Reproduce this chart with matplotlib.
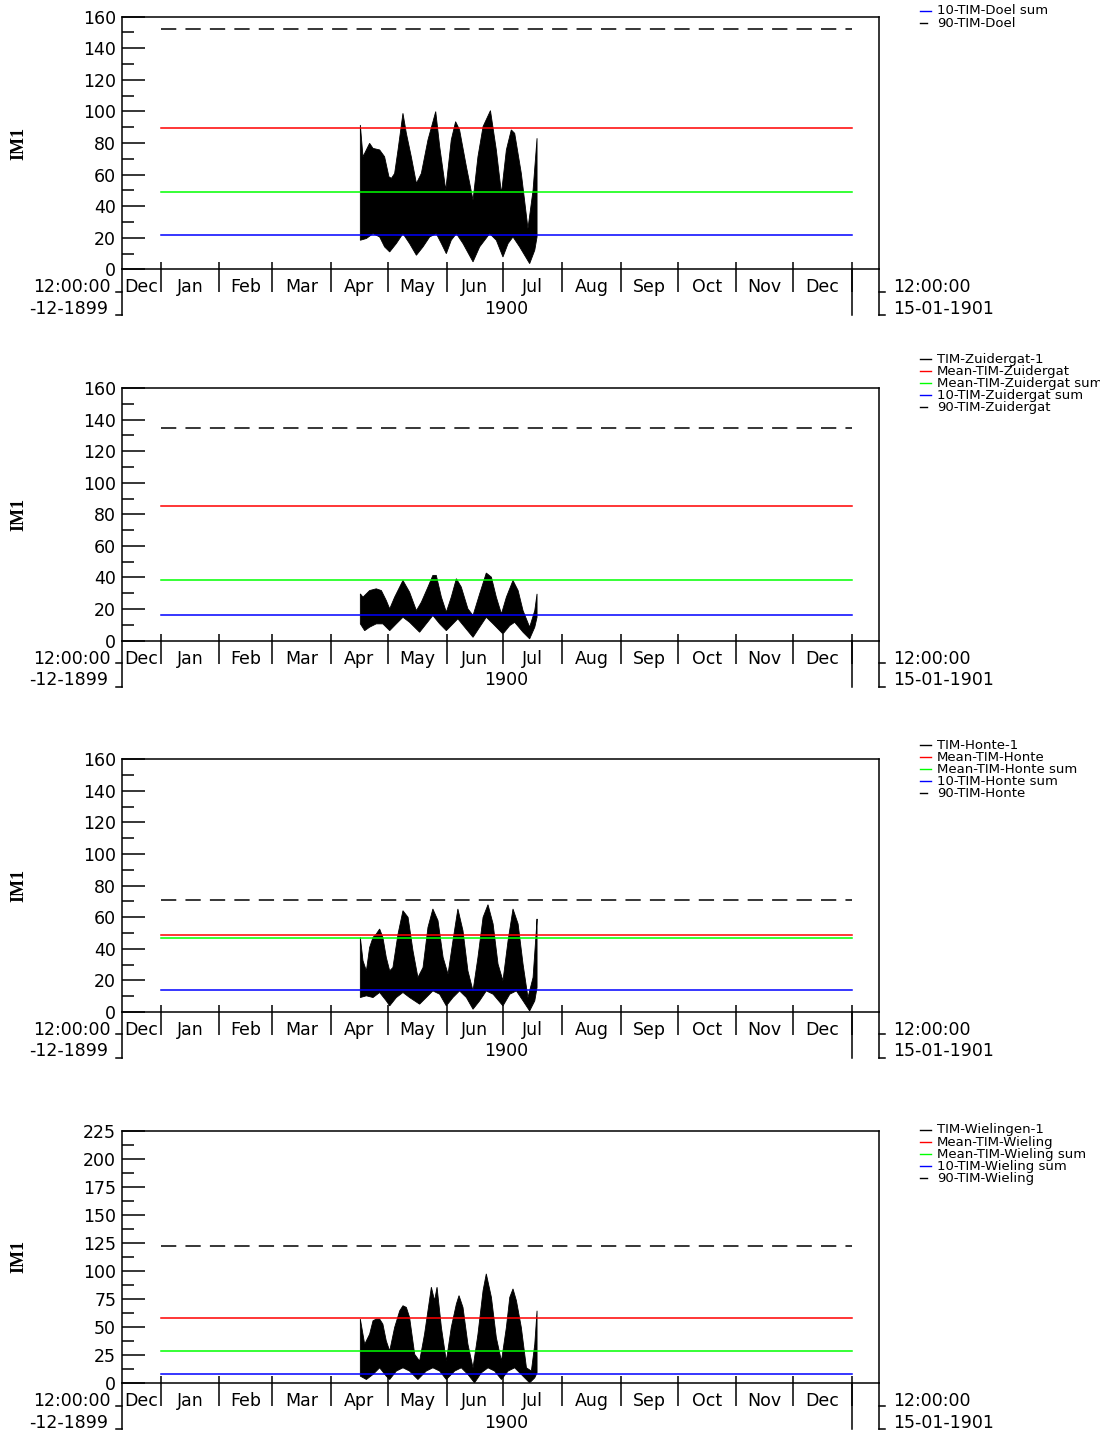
import numpy as np
import matplotlib
matplotlib.use('Agg')
import matplotlib.pyplot as plt
from matplotlib.lines import Line2D
from matplotlib.ticker import MultipleLocator

# x axis in days since 01-01-1900 00:00
x_start, x_end = -20.5, 379.5
month_starts = [0, 31, 59, 90, 120, 151, 181, 212, 243, 273, 304, 334, 365]
month_names = ['Dec', 'Jan', 'Feb', 'Mar', 'Apr', 'May', 'Jun',
               'Jul', 'Aug', 'Sep', 'Oct', 'Nov', 'Dec']
year_label = '1900'
left_date = ['12:00:00', '-12-1899']
right_date = ['12:00:00', '15-01-1901']
stat_start, stat_end = 0, 365

# ---- TIM-Doel (envelope of the dense tidal signal) ----
doel_top_day = [105.5, 106.9, 110.4, 112.2, 115.7, 118.3, 120.6, 121.9, 123.6, 125.4,
                128.0, 129.8, 132.4, 135.1, 137.7, 141.2, 145.3, 147.4, 150.6, 153.5,
                155.8, 157.9, 161.5, 165.0, 167.6, 170.3, 174.2, 177.3, 180.0, 182.6,
                185.2, 187.0, 190.5, 194.0, 196.7, 198.8]
doel_top_val = [91.4, 71.3, 79.8, 76.6, 75.6, 71.3, 58.6, 57.6, 60.7, 75.6,
                98.8, 86.1, 71.3, 54.4, 60.7, 81.9, 99.9, 77.7, 50.2, 81.9,
                93.5, 88.3, 65.0, 43.8, 71.3, 90.4, 100.5, 75.6, 48.0, 75.6,
                88.3, 86.1, 60.7, 25.8, 50.2, 83.0]
doel_bot_day = [105.5, 108.7, 112.2, 115.7, 118.3, 121.0, 124.5, 128.0, 131.5, 135.1,
                138.6, 142.1, 145.6, 148.3, 150.9, 153.5, 156.2, 159.7, 165.0, 168.5,
                173.8, 177.3, 180.8, 183.5, 186.1, 189.6, 194.9, 197.6, 198.8]
doel_bot_val = [18.4, 19.5, 22.6, 20.5, 14.2, 11.0, 16.3, 22.6, 16.3, 8.9,
                14.2, 20.5, 22.6, 16.3, 9.9, 18.4, 22.6, 16.3, 4.7, 14.2,
                22.6, 18.4, 7.8, 16.3, 20.5, 14.2, 3.6, 12.1, 20.5]

# ---- TIM-Zuidergat ----
zuid_top_day = [105.5, 106.9, 110.4, 113.9, 116.6, 119.2, 121.0, 123.6, 128.0, 131.5,
                135.1, 137.7, 141.2, 143.8, 145.6, 148.3, 150.9, 153.5, 156.2, 158.8,
                162.3, 165.0, 168.5, 172.0, 174.7, 177.3, 180.0, 182.6, 186.1, 188.8,
                191.4, 194.9, 197.6, 198.8]
zuid_top_val = [29.6, 27.5, 31.7, 32.8, 31.7, 25.4, 20.1, 27.5, 38.1, 30.7,
                19.0, 24.3, 33.9, 41.3, 41.3, 27.5, 18.0, 27.5, 39.2, 33.9,
                20.1, 15.9, 29.6, 42.8, 40.2, 27.5, 16.9, 27.5, 38.1, 31.7,
                19.0, 8.5, 19.0, 29.6]
zuid_bot_day = [105.5, 107.8, 110.4, 113.9, 117.4, 121.0, 124.5, 128.0, 131.5, 136.8,
                140.3, 143.8, 147.4, 150.9, 154.4, 157.0, 160.6, 165.0, 168.5, 172.0,
                175.6, 180.8, 184.4, 187.0, 191.4, 194.9, 197.6, 198.8]
zuid_bot_val = [10.6, 6.3, 8.5, 10.6, 10.6, 6.3, 10.6, 14.8, 11.6, 5.3,
                10.6, 15.9, 10.6, 6.3, 10.6, 13.8, 8.5, 2.1, 8.5, 14.8,
                10.6, 4.2, 9.5, 11.6, 5.3, 1.1, 8.5, 14.8]

# ---- TIM-Honte ----
honte_top_day = [105.5, 106.9, 108.7, 110.4, 112.2, 113.9, 115.7, 117.4, 119.2, 121.0,
                 122.7, 125.4, 128.0, 130.7, 133.3, 135.9, 138.6, 141.2, 143.8, 146.5,
                 149.2, 151.8, 154.4, 157.0, 159.7, 162.3, 165.0, 167.6, 170.3, 172.9,
                 175.6, 178.2, 180.8, 183.5, 186.1, 188.8, 191.4, 194.0, 196.7, 198.4,
                 198.8]
honte_top_val = [47.2, 32.4, 26.0, 40.8, 47.2, 49.3, 52.5, 47.2, 34.5, 26.0,
                 28.1, 49.3, 64.1, 59.9, 38.7, 21.8, 28.1, 53.5, 65.2, 57.8,
                 34.5, 23.9, 45.1, 65.2, 51.4, 26.0, 13.3, 34.5, 59.9, 67.9,
                 55.7, 30.3, 19.7, 45.1, 65.2, 55.7, 30.3, 9.1, 21.8, 51.4,
                 58.9]
honte_bot_day = [105.5, 108.7, 112.2, 115.7, 119.2, 121.0, 124.5, 128.0, 131.5, 136.8,
                 140.3, 143.8, 147.4, 150.9, 154.4, 157.9, 161.5, 165.0, 168.5, 172.0,
                 175.6, 180.8, 184.4, 187.9, 191.4, 194.9, 197.6, 198.8]
honte_bot_val = [9.1, 10.2, 9.1, 12.3, 7.0, 3.8, 9.1, 12.3, 9.1, 4.9,
                 9.1, 13.3, 11.2, 3.8, 9.1, 13.3, 9.1, 1.7, 7.0, 13.3,
                 11.2, 3.8, 11.2, 13.3, 7.0, 0.6, 7.0, 15.4]

# ---- TIM-Wielingen ----
wiel_top_day = [105.5, 107.8, 110.4, 112.2, 113.9, 115.7, 117.4, 119.2, 121.0, 123.6,
                126.3, 128.0, 129.8, 131.5, 134.2, 136.8, 139.4, 141.2, 143.0, 144.7,
                146.0, 148.3, 150.9, 153.5, 156.2, 157.6, 159.7, 162.3, 165.0, 167.6,
                170.3, 172.0, 174.7, 177.3, 180.0, 182.6, 184.4, 186.1, 187.9, 190.5,
                193.2, 195.8, 197.6, 198.8]
wiel_top_val = [57.1, 34.7, 43.6, 55.6, 57.1, 57.1, 52.6, 37.6, 28.7, 49.6,
                64.5, 69.0, 67.5, 58.6, 25.7, 19.7, 43.6, 64.5, 85.5, 73.5,
                85.5, 49.6, 19.7, 49.6, 70.5, 78.0, 67.5, 34.7, 13.7, 43.6,
                82.5, 97.4, 76.5, 40.6, 19.7, 49.6, 76.5, 84.0, 73.5, 49.6,
                13.7, 10.8, 34.7, 64.5]
wiel_bot_day = [105.5, 108.7, 112.2, 115.7, 119.2, 121.0, 124.5, 128.0, 131.5, 135.9,
                140.3, 143.8, 147.4, 150.9, 155.3, 158.8, 162.3, 165.8, 169.4, 172.9,
                176.4, 180.0, 183.5, 187.0, 190.5, 194.9, 197.6, 198.8]
wiel_bot_val = [6.3, 3.3, 7.8, 13.7, 6.3, 3.3, 10.8, 13.7, 10.8, 3.3,
                10.8, 13.7, 10.8, 3.3, 10.8, 13.7, 7.8, 0.3, 9.3, 13.7,
                10.8, 3.3, 10.8, 13.7, 7.8, 0.3, 4.8, 9.3]

# statistics: mean, mean sum, 10 percentile sum, 90 percentile
doel_stats = [89.5, 48.9, 21.6, 152.4]
zuid_stats = [85.1, 38.7, 16.5, 134.6]
honte_stats = [48.9, 47.0, 14.0, 71.1]
wiel_stats = [58.3, 28.7, 8.1, 121.9]

doel_legend = ['10-TIM-Doel sum', '90-TIM-Doel']
zuid_legend = ['TIM-Zuidergat-1', 'Mean-TIM-Zuidergat', 'Mean-TIM-Zuidergat sum',
               '10-TIM-Zuidergat sum', '90-TIM-Zuidergat']
honte_legend = ['TIM-Honte-1', 'Mean-TIM-Honte', 'Mean-TIM-Honte sum',
                '10-TIM-Honte sum', '90-TIM-Honte']
wiel_legend = ['TIM-Wielingen-1', 'Mean-TIM-Wieling', 'Mean-TIM-Wieling sum',
               '10-TIM-Wieling sum', '90-TIM-Wieling']
legend_colors = ['black', 'red', '#00ff00', 'blue', 'black']

y_max = [160, 160, 160, 225]
y_step = [20, 20, 20, 25]

panels = [
    (doel_top_day, doel_top_val, doel_bot_day, doel_bot_val, doel_stats, doel_legend, 3, 11),
    (zuid_top_day, zuid_top_val, zuid_bot_day, zuid_bot_val, zuid_stats, zuid_legend, 0, 359),
    (honte_top_day, honte_top_val, honte_bot_day, honte_bot_val, honte_stats, honte_legend, 0, 745),
    (wiel_top_day, wiel_top_val, wiel_bot_day, wiel_bot_val, wiel_stats, wiel_legend, 0, 1130),
]

W, H = 1100, 1434
fig = plt.figure(figsize=(11, 14.34), dpi=100)
ax_left, ax_right = 121.7, 879.3
ax_h = 252.6
panel_tops = [16.7, 388.0, 759.3, 1130.6]
lw = 1.1
tick_font = 12.5

edges = [x_start] + month_starts
label_pos = [(a + b) / 2 for a, b in zip(edges[:-1], edges[1:])]

for i, (td, tv, bd, bv, stats, leg, first_idx, leg_y) in enumerate(panels):
    top = panel_tops[i]
    ax = fig.add_axes([ax_left / W, 1 - (top + ax_h) / H, (ax_right - ax_left) / W, ax_h / H])
    ax.set_xlim(x_start, x_end)
    ax.set_ylim(0, y_max[i])
    for s in ax.spines.values():
        s.set_linewidth(lw)

    # dense signal, drawn as its envelope
    ax.fill(np.concatenate([td, bd[::-1]]), np.concatenate([tv, bv[::-1]]),
            color='black', lw=0.6, zorder=1)
    mean, mean_sum, p10, p90 = stats
    ax.plot([stat_start, stat_end], [mean, mean], color='red', lw=lw, zorder=2)
    ax.plot([stat_start, stat_end], [mean_sum, mean_sum], color='#00ff00', lw=lw, zorder=2)
    ax.plot([stat_start, stat_end], [p10, p10], color='blue', lw=lw, zorder=2)
    ax.plot([stat_start, stat_end], [p90, p90], color='black', lw=lw, dashes=(10, 6), zorder=2)

    # y axis
    ax.set_yticks(np.arange(0, y_max[i] + 1, y_step[i]))
    ax.yaxis.set_minor_locator(MultipleLocator(y_step[i] / 2))
    ax.tick_params(axis='y', which='major', direction='in', length=16.6, width=lw,
                   labelsize=tick_font, pad=4)
    ax.tick_params(axis='y', which='minor', direction='in', length=8.6, width=lw)
    ax.set_ylabel('IM1', family='Liberation Serif', weight='bold', fontsize=13)
    ax.yaxis.set_label_coords(-94 / (ax_right - ax_left), 0.5)

    # x axis: month boundaries
    ax.xaxis.remove_overlapping_locs = False
    ax.set_xticks(month_starts)
    ax.set_xticklabels([])
    ax.set_xticks(month_starts, minor=True)
    ax.tick_params(axis='x', which='major', direction='out', length=16.6, width=lw)
    ax.tick_params(axis='x', which='minor', direction='in', length=5, width=lw)

    tr = ax.get_xaxis_transform()
    py = lambda p: -p / ax_h
    px = lambda p: p / (ax_right - ax_left)
    for pos, name in zip(label_pos, month_names):
        ax.text(pos, py(18), name, transform=tr, ha='center', va='center', fontsize=tick_font)
    ax.text((month_starts[0] + month_starts[-1]) / 2, py(39.5), year_label, transform=tr,
            ha='center', va='center', fontsize=tick_font)
    ax.plot([month_starts[-1]] * 2, [0, py(46)], transform=tr, color='black', lw=lw, clip_on=False)

    # start / end brackets
    ta = ax.transAxes
    ax.plot([0, 0], [0, py(46)], transform=ta, color='black', lw=lw, clip_on=False)
    ax.plot([1, 1], [0, py(46)], transform=ta, color='black', lw=lw, clip_on=False)
    for yy in (22.5, 46):
        ax.plot([0, px(-6)], [py(yy)] * 2, transform=ta, color='black', lw=lw, clip_on=False)
        ax.plot([1, 1 + px(6)], [py(yy)] * 2, transform=ta, color='black', lw=lw, clip_on=False)
    ax.text(px(-11.5), py(18), left_date[0], transform=ta, ha='right', va='center', fontsize=tick_font)
    ax.text(px(-13.5), py(39.5), left_date[1], transform=ta, ha='right', va='center', fontsize=tick_font)
    ax.text(1 + px(13.5), py(18), right_date[0], transform=ta, ha='left', va='center', fontsize=tick_font)
    ax.text(1 + px(13.5), py(39.5), right_date[1], transform=ta, ha='left', va='center', fontsize=tick_font)

    # legend (top right, outside the plot)
    for k, label in enumerate(leg):
        yk = leg_y + k * 12.1
        col = legend_colors[first_idx + k]
        x2 = 927 if first_idx + k == 4 else 931
        fig.add_artist(Line2D([920 / W, x2 / W], [1 - yk / H] * 2, color=col, lw=1.0))
        fig.text(937 / W, 1 - yk / H, label, ha='left', va='center', fontsize=9.5)

fig.savefig('out.png', dpi=100)
